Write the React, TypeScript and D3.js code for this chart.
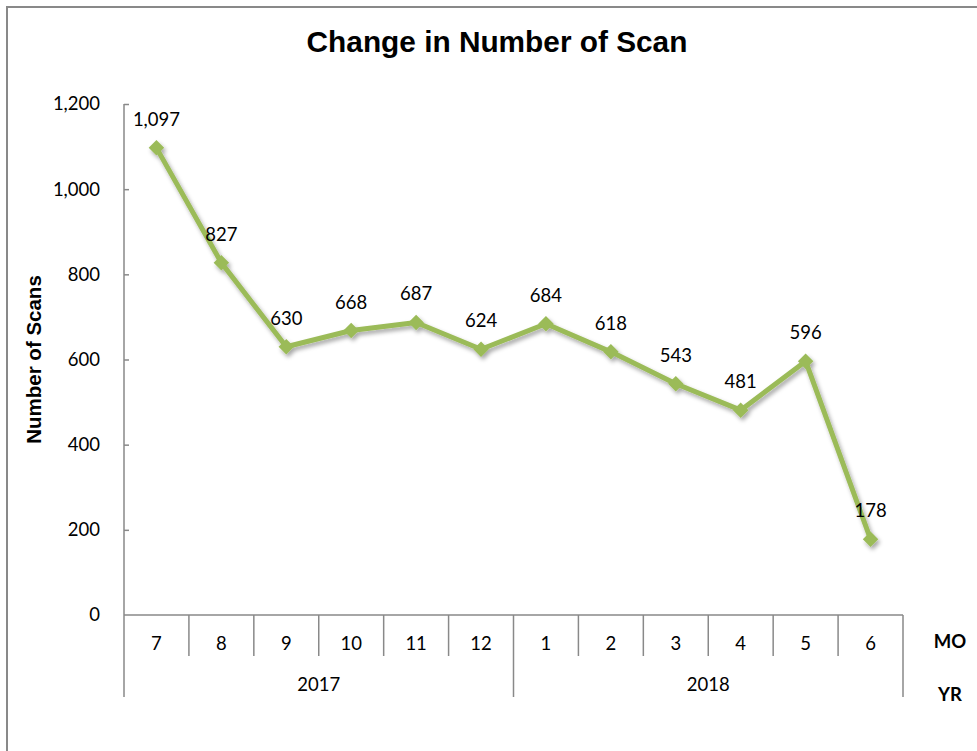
import React, { useEffect, useRef } from "react"
import * as d3 from "d3"

const months = ["7", "8", "9", "10", "11", "12", "1", "2", "3", "4", "5", "6"]
const years = ["2017", "2018"]
const monthsPerYear = [6, 6]
const scans = [1097, 827, 630, 668, 687, 624, 684, 618, 543, 481, 596, 178]
const yTicks = [0, 200, 400, 600, 800, 1000, 1200]

const width = 977
const height = 751

const App = () => {
    const ref = useRef<SVGGElement>(null)

    useEffect(() => {
        const root = d3.select(ref.current)
        root.selectAll("*").remove()

        const margin = { left: 124, top: 104, right: 74, bottom: 136 }
        const x0 = margin.left
        const x1 = width - margin.right
        const y0 = height - margin.bottom
        const axisColor = "#898989"
        const green = "#9BBB59"
        const bodyFont = "Lato, 'Noto Sans', sans-serif"
        const bodySize = 18.5

        const xScale = d3.scaleBand<string>()
            .domain(months.map((m, i) => String(i)))
            .range([x0, x1])
            .paddingInner(0)
            .paddingOuter(0)

        const yScale = d3.scaleLinear()
            .domain([0, 1200])
            .range([y0, margin.top])

        // outer chart frame (only left and top visible)
        root.append("path")
            .attr("d", `M7,${height + 5} V7 H${width + 5}`)
            .attr("fill", "none")
            .attr("stroke", axisColor)
            .attr("stroke-width", 2)

        // title
        root.append("text")
            .attr("x", 497)
            .attr("y", 52)
            .attr("text-anchor", "middle")
            .attr("font-family", "'Liberation Sans', Arial, sans-serif")
            .attr("font-weight", "bold")
            .attr("font-size", 29.8)
            .attr("fill", "#000")
            .text("Change in Number of Scan")

        // y axis
        const yAxis = d3.axisLeft(yScale)
            .tickValues(yTicks)
            .tickSize(-5)
            .tickPadding(24)
            .tickFormat(d3.format(","))

        const yAxisG = root.append("g")
            .attr("transform", `translate(${x0},0)`)
            .call(yAxis)

        yAxisG.select(".domain").remove()
        yAxisG.selectAll(".tick line")
            .attr("stroke", axisColor)
            .attr("stroke-width", 1.5)
        yAxisG.selectAll(".tick text")
            .attr("font-family", bodyFont)
            .attr("font-size", bodySize)
            .attr("fill", "#000")

        yAxisG.selectAll(".tick")
            .filter(d => d === 0)
            .select("line")
            .remove()

        // vertical axis line running down through the category rows
        root.append("line")
            .attr("x1", x0).attr("x2", x0)
            .attr("y1", margin.top).attr("y2", y0 + 82)
            .attr("stroke", axisColor)
            .attr("stroke-width", 1.5)

        // baseline
        root.append("line")
            .attr("x1", x0).attr("x2", x1)
            .attr("y1", y0).attr("y2", y0)
            .attr("stroke", axisColor)
            .attr("stroke-width", 1.5)

        // month separators and labels
        const bw = xScale.bandwidth()
        months.forEach((m, i) => {
            const left = xScale(String(i)) as number
            const right = left + bw
            const isYearEnd = i === 5 || i === 11
            root.append("line")
                .attr("x1", right).attr("x2", right)
                .attr("y1", y0).attr("y2", y0 + (isYearEnd ? 82 : 41))
                .attr("stroke", axisColor)
                .attr("stroke-width", 1.5)
            root.append("text")
                .attr("x", left + bw / 2)
                .attr("y", y0 + 35)
                .attr("text-anchor", "middle")
                .attr("font-family", bodyFont)
                .attr("font-size", bodySize)
                .attr("fill", "#000")
                .text(m)
        })

        // year labels
        let start = 0
        years.forEach((yr, j) => {
            const left = xScale(String(start)) as number
            const right = (xScale(String(start + monthsPerYear[j] - 1)) as number) + bw
            root.append("text")
                .attr("x", (left + right) / 2)
                .attr("y", y0 + 76)
                .attr("text-anchor", "middle")
                .attr("font-family", bodyFont)
                .attr("font-size", bodySize)
                .attr("fill", "#000")
                .text(yr)
            start += monthsPerYear[j]
        })

        // MO / YR row labels
        root.append("text")
            .attr("x", 950).attr("y", y0 + 33)
            .attr("text-anchor", "middle")
            .attr("font-family", bodyFont)
            .attr("font-weight", "bold")
            .attr("font-size", bodySize)
            .text("MO")
        root.append("text")
            .attr("x", 950).attr("y", y0 + 86)
            .attr("text-anchor", "middle")
            .attr("font-family", bodyFont)
            .attr("font-weight", "bold")
            .attr("font-size", bodySize)
            .text("YR")

        // y axis title
        root.append("text")
            .attr("transform", `translate(41,${(margin.top + y0) / 2}) rotate(-90)`)
            .attr("text-anchor", "middle")
            .attr("font-family", "'Liberation Sans', Arial, sans-serif")
            .attr("font-weight", "bold")
            .attr("font-size", 20.5)
            .text("Number of Scans")

        // drop shadow
        const defs = root.append("defs")
        const filter = defs.append("filter")
            .attr("id", "shadow")
            .attr("x", "-20%").attr("y", "-20%")
            .attr("width", "140%").attr("height", "140%")
        filter.append("feDropShadow")
            .attr("dx", 2).attr("dy", 3)
            .attr("stdDeviation", 2)
            .attr("flood-color", "#000")
            .attr("flood-opacity", 0.35)

        const xPos = (i: number) => (xScale(String(i)) as number) + bw / 2

        const line = d3.line<number>()
            .x((d, i) => xPos(i))
            .y(d => yScale(d))

        const series = root.append("g").attr("filter", "url(#shadow)")

        series.append("path")
            .datum(scans)
            .attr("d", line)
            .attr("fill", "none")
            .attr("stroke", green)
            .attr("stroke-width", 5)
            .attr("stroke-linejoin", "round")

        series.selectAll("path.marker")
            .data(scans)
            .enter().append("path")
            .attr("class", "marker")
            .attr("d", d3.symbol().type(d3.symbolSquare).size(120))
            .attr("transform", (d, i) => `translate(${xPos(i)},${yScale(d)}) rotate(45)`)
            .attr("fill", green)

        // data labels
        root.selectAll("text.label")
            .data(scans)
            .enter().append("text")
            .attr("class", "label")
            .attr("x", (d, i) => xPos(i))
            .attr("y", d => yScale(d) - 22)
            .attr("text-anchor", "middle")
            .attr("font-family", bodyFont)
            .attr("font-size", bodySize)
            .attr("fill", "#000")
            .text(d => d3.format(",")(d))
    }, [])

    return (
        <svg width={width} height={height} style={{ position: "absolute", left: 0, top: 0, background: "#fff" }}>
            <g ref={ref} />
        </svg>
    )
}

export default App
